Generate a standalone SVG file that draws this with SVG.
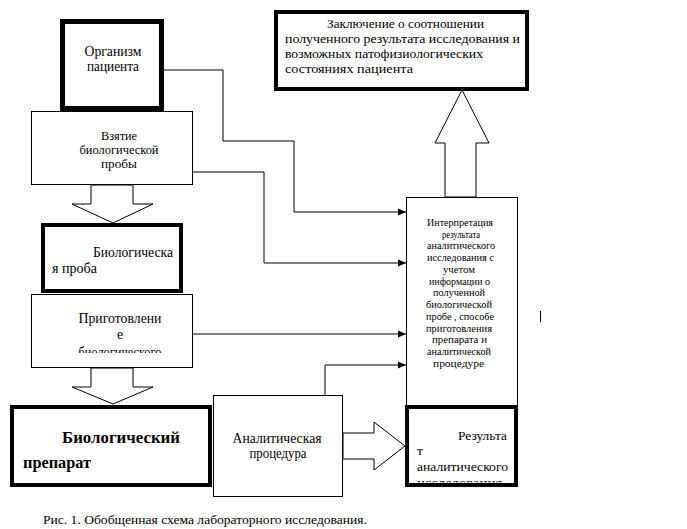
<svg xmlns="http://www.w3.org/2000/svg" width="687" height="529" viewBox="0 0 687 529">
<style>
.thin{fill:#fff;stroke:#000;stroke-width:1}
.thick{fill:#fff;stroke:#000}
.blk{fill:#fff;stroke:#000;stroke-width:1}
.t{font-family:"Liberation Serif","DejaVu Serif","Times New Roman",serif;fill:#000}
.conn{fill:none;stroke:#000;stroke-width:1}
</style>
<defs>
<marker id="ah" markerUnits="userSpaceOnUse" markerWidth="9" markerHeight="8" refX="8" refY="4" orient="auto">
<path d="M0,0.5 L8,4 L0,7.5 z" fill="#000"/>
</marker>
<clipPath id="clipPrep"><rect x="31" y="294" width="162" height="59"/></clipPath>
<clipPath id="clipRes"><rect x="405" y="405" width="113" height="77.5"/></clipPath>
</defs>
<rect width="687" height="529" fill="#fff"/>

<g id="connectors">
<polyline class="conn" points="164,70 223,70 223,141 294,141 294,212 406,212" marker-end="url(#ah)"/>
<polyline class="conn" points="193,172 264,172 264,263 406,263" marker-end="url(#ah)"/>
<polyline class="conn" points="193,334 406,334" marker-end="url(#ah)"/>
<polyline class="conn" points="325,395 325,365 406,365" marker-end="url(#ah)"/>
<polygon class="blk" points="91,185 91,204 72,204 113,223 153,204 133,204 133,185"/>
<polygon class="blk" points="91,368 91,387 72,387 113,404 153,387 133,387 133,368"/>
<polygon class="blk" points="343,433 374,433 374,422 405,446 374,470 374,459 343,459"/>
<polygon class="blk" points="445,197 445,143 435,143 462,90 489,143 476,143 476,197"/>
</g>

<g id="biopsy">
<rect class="thin" x="31.5" y="111.5" width="161" height="73"/>
<text class="t" font-size="13" text-anchor="middle" x="119" y="140" textLength="36" lengthAdjust="spacingAndGlyphs">Взятие</text>
<text class="t" font-size="13" text-anchor="middle" x="119" y="154" textLength="79" lengthAdjust="spacingAndGlyphs">биологической</text>
<text class="t" font-size="13" text-anchor="middle" x="119" y="168" textLength="36" lengthAdjust="spacingAndGlyphs">пробы</text>
</g>

<g id="organism">
<rect class="thick" stroke-width="5" x="62.5" y="21.5" width="99" height="87"/>
<text class="t" font-size="14" text-anchor="middle" x="113" y="56" textLength="57" lengthAdjust="spacingAndGlyphs">Организм</text>
<text class="t" font-size="14" text-anchor="middle" x="113" y="71" textLength="52" lengthAdjust="spacingAndGlyphs">пациента</text>
</g>

<g id="preparation">
<rect class="thin" x="31.5" y="294.5" width="161" height="73"/>
<g clip-path="url(#clipPrep)">
<text class="t" font-size="14" text-anchor="middle" x="120" y="323" textLength="83" lengthAdjust="spacingAndGlyphs">Приготовлени</text>
<text class="t" font-size="14" text-anchor="middle" x="120" y="339">е</text>
<text class="t" font-size="14" text-anchor="middle" x="120" y="357" textLength="83" lengthAdjust="spacingAndGlyphs">биологического</text>
</g>
</g>

<g id="sample">
<rect class="thick" stroke-width="4" x="43" y="225" width="138" height="66"/>
<text class="t" font-size="14" x="93" y="257" textLength="80" lengthAdjust="spacingAndGlyphs">Биологическа</text>
<text class="t" font-size="14" x="52" y="273" textLength="45" lengthAdjust="spacingAndGlyphs">я проба</text>
</g>

<g id="analytic">
<rect class="thin" x="213.5" y="395.5" width="129" height="101"/>
<text class="t" font-size="14" text-anchor="middle" x="277" y="443" textLength="89" lengthAdjust="spacingAndGlyphs">Аналитическая</text>
<text class="t" font-size="14" text-anchor="middle" x="278" y="458" textLength="57" lengthAdjust="spacingAndGlyphs">процедура</text>
</g>

<g id="specimen">
<rect class="thick" stroke-width="4" x="12" y="407" width="198" height="78"/>
<text class="t" font-size="16" font-weight="bold" x="62" y="443" textLength="118" lengthAdjust="spacingAndGlyphs">Биологический</text>
<text class="t" font-size="16" font-weight="bold" x="23" y="468" textLength="68" lengthAdjust="spacingAndGlyphs">препарат</text>
</g>

<g id="interpretation">
<rect class="thin" x="406.5" y="197.5" width="111" height="210"/>
<g class="t" font-size="10" text-anchor="middle" lengthAdjust="spacingAndGlyphs">
<text x="460" y="226" textLength="66" lengthAdjust="spacingAndGlyphs">Интерпретация</text>
<text x="461" y="238" textLength="38" lengthAdjust="spacingAndGlyphs">результата</text>
<text x="461" y="249" textLength="68" lengthAdjust="spacingAndGlyphs">аналитического</text>
<text x="460.5" y="261" textLength="67" lengthAdjust="spacingAndGlyphs">исследования с</text>
<text x="459" y="273" textLength="32" lengthAdjust="spacingAndGlyphs">учетом</text>
<text x="459.5" y="285" textLength="61" lengthAdjust="spacingAndGlyphs">информации о</text>
<text x="459" y="296" textLength="52" lengthAdjust="spacingAndGlyphs">полученной</text>
<text x="459" y="308" textLength="66" lengthAdjust="spacingAndGlyphs">биологической</text>
<text x="460" y="320" textLength="68" lengthAdjust="spacingAndGlyphs">пробе , способе</text>
<text x="459" y="332" textLength="66" lengthAdjust="spacingAndGlyphs">приготовления</text>
<text x="459.5" y="343" textLength="55" lengthAdjust="spacingAndGlyphs">препарата и</text>
<text x="459" y="355" textLength="64" lengthAdjust="spacingAndGlyphs">аналитической</text>
<text x="458.5" y="367" textLength="51" lengthAdjust="spacingAndGlyphs">процедуре</text>
</g>
</g>

<g id="result">
<rect class="thick" stroke-width="4" x="407" y="407" width="109" height="78"/>
<g clip-path="url(#clipRes)">
<text class="t" font-size="13.5" text-anchor="end" x="507" y="440" textLength="49" lengthAdjust="spacingAndGlyphs">Результа</text>
<text class="t" font-size="13.5" x="417" y="455">т</text>
<text class="t" font-size="13.5" x="417" y="471" textLength="91" lengthAdjust="spacingAndGlyphs">аналитического</text>
<text class="t" font-size="13.5" x="417" y="487" textLength="85" lengthAdjust="spacingAndGlyphs">исследования</text>
</g>
</g>

<g id="conclusion">
<rect class="thick" stroke-width="4" x="276" y="12" width="251" height="77"/>
<text class="t" font-size="13.5" x="327" y="28" textLength="157" lengthAdjust="spacingAndGlyphs">Заключение о соотношении</text>
<text class="t" font-size="13.5" x="285" y="43" textLength="235" lengthAdjust="spacingAndGlyphs">полученного результата исследования и</text>
<text class="t" font-size="13.5" x="285" y="58" textLength="198" lengthAdjust="spacingAndGlyphs">возможных патофизиологических</text>
<text class="t" font-size="13.5" x="285" y="73" textLength="128" lengthAdjust="spacingAndGlyphs">состояниях пациента</text>
</g>

<line x1="540.5" y1="311" x2="540.5" y2="322" stroke="#000" stroke-width="1"/>

<text class="t" font-size="13" x="43" y="524" textLength="324" lengthAdjust="spacingAndGlyphs">Рис. 1. Обобщенная схема лабораторного исследования.</text>
</svg>
